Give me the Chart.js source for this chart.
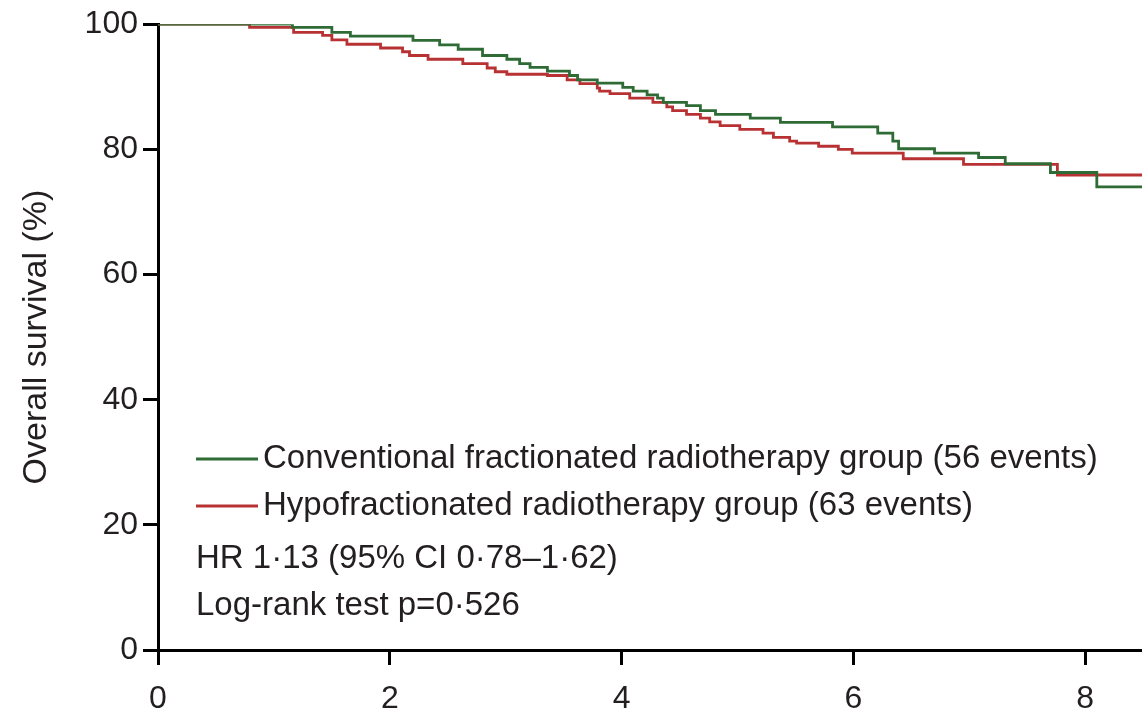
<!DOCTYPE html>
<html>
<head>
<meta charset="utf-8">
<script src="https://cdn.jsdelivr.net/npm/chart.js@4.4.1/dist/chart.umd.min.js"></script>
<style>
    html, body { margin: 0; padding: 0; background: #fff; }
    #wrap { width: 1142px; height: 716px; }
</style>
</head>
<body>
<div id="wrap"><canvas id="survivalChart" width="1142" height="716"></canvas></div>
<script>
// Kaplan-Meier steps (years, % surviving)
const convYears = [0, 1.16, 1.50, 1.66, 2.20, 2.43, 2.59, 2.80, 3.01, 3.12, 3.21, 3.36, 3.55, 3.62, 3.79, 4.01, 4.10, 4.22, 4.31, 4.36, 4.56, 4.68, 4.81, 5.11, 5.37, 5.82, 6.21, 6.34, 6.39, 6.70, 7.08, 7.31, 7.70, 8.10, 8.49];
const convSurvival = [100, 99.5, 98.7, 98.1, 97.4, 96.7, 96.0, 95.0, 94.4, 93.7, 93.1, 92.5, 91.8, 91.1, 90.6, 89.9, 89.3, 88.7, 88.2, 87.5, 87.0, 86.2, 85.6, 85.0, 84.3, 83.6, 82.6, 81.3, 80.1, 79.4, 78.7, 77.7, 76.3, 74.0, 74.0];

const hypoYears = [0, 0.79, 1.17, 1.42, 1.50, 1.63, 1.92, 2.11, 2.17, 2.33, 2.63, 2.84, 2.91, 3.01, 3.36, 3.53, 3.64, 3.79, 3.81, 3.90, 4.07, 4.27, 4.39, 4.44, 4.56, 4.68, 4.76, 4.85, 5.02, 5.22, 5.31, 5.45, 5.51, 5.70, 5.87, 5.99, 6.43, 6.95, 7.76, 8.49];
const hypoSurvival = [100, 99.5, 98.7, 98.2, 97.5, 96.8, 96.2, 95.6, 95.0, 94.4, 93.7, 93.0, 92.4, 92.0, 91.8, 91.1, 90.5, 89.8, 89.3, 88.9, 88.2, 87.5, 86.8, 86.2, 85.6, 85.0, 84.4, 83.8, 83.2, 82.6, 81.9, 81.3, 81.0, 80.5, 80.0, 79.4, 78.5, 77.6, 75.9, 75.9];

const seriesLabels = [
    "Conventional fractionated radiotherapy group (56 events)",
    "Hypofractionated radiotherapy group (63 events)"
];
const statsLines = ["HR 1·13 (95% CI 0·78–1·62)", "Log-rank test p=0·526"];
const xTicks = [0, 2, 4, 6, 8];
const yTicks = [0, 20, 40, 60, 80, 100];

const textColor = '#231f20';
const fontFamily = '"Liberation Sans", Arial, sans-serif';

// legend + stats text drawn inside the plot area
const insideLegend = {
    id: 'insideLegend',
    afterDraw(chart) {
        const ctx = chart.ctx;
        const left = chart.chartArea.left + 38;
        ctx.save();
        ctx.font = '33px ' + fontFamily;
        ctx.textBaseline = 'alphabetic';
        ctx.fillStyle = textColor;
        chart.data.datasets.forEach((ds, i) => {
            const base = 468 + i * 47;
            ctx.strokeStyle = ds.borderColor;
            ctx.lineWidth = 3;
            ctx.beginPath();
            ctx.moveTo(left, base - 9);
            ctx.lineTo(left + 62, base - 9);
            ctx.stroke();
            ctx.fillText(ds.label, left + 67, base);
        });
        statsLines.forEach((t, i) => {
            ctx.fillText(t, left, 568 + i * 47);
        });
        ctx.restore();
    }
};

document.addEventListener("DOMContentLoaded", function () {
    const ctx = document.getElementById('survivalChart');

    new Chart(ctx, {
        type: 'line',
        data: {
            datasets: [{
                label: seriesLabels[0],
                data: convYears.map((t, i) => ({ x: t, y: convSurvival[i] })),
                borderColor: '#2e6b35',
                borderWidth: 2.8,
                pointRadius: 0,
                stepped: true,
                fill: false
            }, {
                label: seriesLabels[1],
                data: hypoYears.map((t, i) => ({ x: t, y: hypoSurvival[i] })),
                borderColor: '#b83234',
                borderWidth: 2.8,
                pointRadius: 0,
                stepped: true,
                fill: false
            }]
        },
        options: {
            responsive: false,
            animation: false,
            devicePixelRatio: 1,
            layout: { padding: { top: 23, right: 0, left: 0, bottom: 0 } },
            plugins: {
                legend: { display: false },
                tooltip: { enabled: false }
            },
            scales: {
                x: {
                    type: 'linear',
                    min: 0,
                    max: 8.49,
                    afterBuildTicks: s => { s.ticks = xTicks.map(v => ({ value: v })); },
                    afterFit: s => { s.height = 66; },
                    grid: { drawOnChartArea: false, drawTicks: true, tickLength: 15, color: '#000', lineWidth: 3 },
                    border: { display: true, color: '#000', width: 3 },
                    ticks: { color: textColor, font: { family: fontFamily, size: 32 }, padding: 15, maxRotation: 0 }
                },
                y: {
                    min: 0,
                    max: 100,
                    afterBuildTicks: s => { s.ticks = yTicks.map(v => ({ value: v })); },
                    afterFit: s => { s.width = 158; },
                    grid: { drawOnChartArea: false, drawTicks: true, tickLength: 15, color: '#000', lineWidth: 3 },
                    border: { display: true, color: '#000', width: 3 },
                    ticks: { color: textColor, font: { family: fontFamily, size: 32 }, padding: 5 },
                    title: {
                        display: true,
                        text: 'Overall survival (%)',
                        color: textColor,
                        font: { family: fontFamily, size: 34 },
                        padding: { top: 16, bottom: 0 }
                    }
                }
            }
        },
        plugins: [insideLegend]
    });
});
</script>
</body>
</html>
